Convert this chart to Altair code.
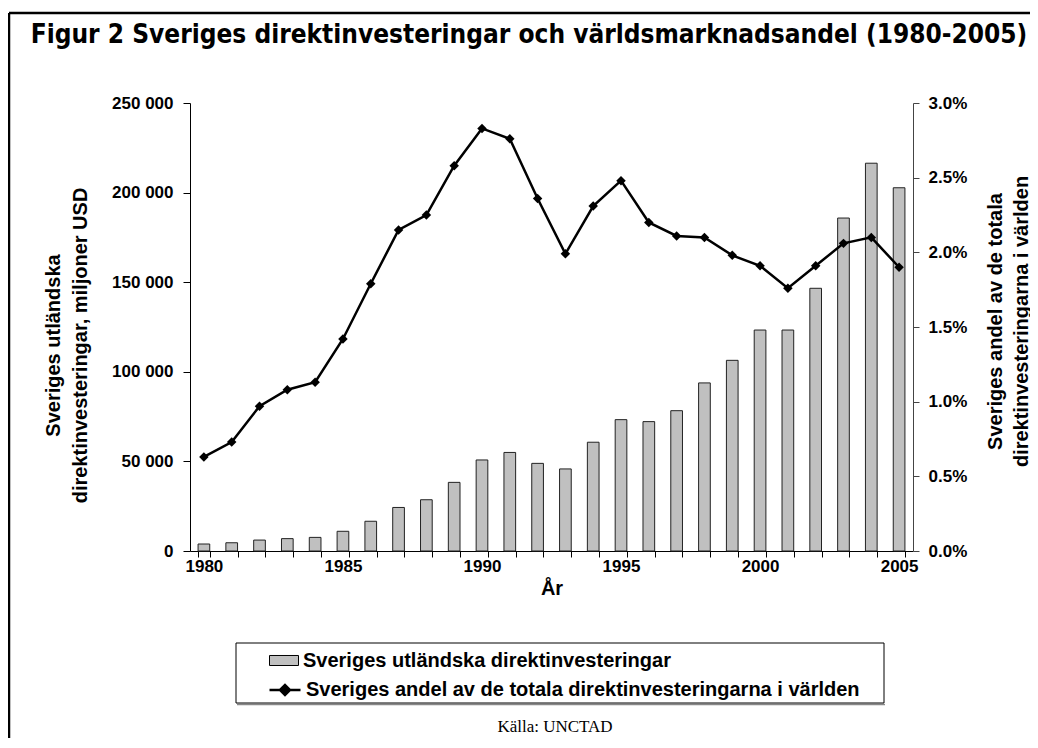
import altair as alt
import pandas as pd

years = list(range(1980, 2006))
fdi = [3900, 4600, 6100, 6900, 7600, 11000, 16600, 24300, 28600, 38300,
       50800, 55000, 48900, 45800, 60700, 73300, 72200, 78300, 93800, 106400,
       123300, 123300, 146600, 185800, 216400, 202700]
share = [0.63, 0.73, 0.97, 1.08, 1.13, 1.42, 1.79, 2.15, 2.25, 2.58,
         2.83, 2.76, 2.36, 1.99, 2.31, 2.48, 2.20, 2.11, 2.10, 1.98,
         1.91, 1.76, 1.91, 2.06, 2.10, 1.90]
bar_name = "Sveriges utländska direktinvesteringar"
line_name = "Sveriges andel av de totala direktinvesteringarna i världen"
title_text = "Figur 2 Sveriges direktinvesteringar och världsmarknadsandel (1980-2005)"
source_text = "Källa: UNCTAD"

df = pd.DataFrame({"year": years, "fdi": fdi, "share": share,
                   "s_bar": bar_name, "s_line": line_name})
deco = pd.DataFrame({"a": [0]})

FONT = "Liberation Sans, Arial, sans-serif"
LFS = 17
TFS = 20

x_enc = alt.X(
    "year:O",
    scale=alt.Scale(paddingInner=0.58, paddingOuter=0.29),
    axis=alt.Axis(
        title="År", labelAngle=0, tickBand="extent", tickSize=6,
        labelExpr="datum.value % 5 == 0 ? datum.label : ''",
        labelPadding=1, titlePadding=4,
        domainColor="black", tickColor="black",
    ),
)

bars = alt.Chart(df).mark_bar(stroke="#222222", strokeWidth=1).encode(
    x=x_enc,
    y=alt.Y("fdi:Q", scale=alt.Scale(domain=[0, 250000]),
            axis=alt.Axis(
                title=["Sveriges utländska", "direktinvesteringar, miljoner USD"],
                values=[0, 50000, 100000, 150000, 200000, 250000],
                labelExpr="replace(format(datum.value, ','), ',', ' ')",
                tickSize=7, labelPadding=10,
                domainColor="black", tickColor="black",
                titleLineHeight=27, titleAngle=270, titleAlign="center",
                titleBaseline="middle", titleX=-137, titleY=242,
            )),
    fill=alt.Fill("s_bar:N", scale=alt.Scale(domain=[bar_name], range=["#C0C0C0"]),
                  legend=alt.Legend(
                      title=None, orient="none", legendX=79, legendY=542.5,
                      symbolType="M-1,-0.345H1V0.345H-1Z", symbolSize=841,
                      symbolStrokeColor="black", symbolStrokeWidth=1,
                      labelOffset=4, padding=0,
                  )),
)

share_axis = alt.Axis(
    orient="right",
    title=["Sveriges andel av de totala", "direktinvesteringarna i världen"],
    values=[0, 0.5, 1, 1.5, 2, 2.5, 3],
    labelExpr="format(datum.value, '.1f') + '%'",
    tickSize=6, labelPadding=9,
    domainColor="#444444", tickColor="#444444",
    titleLineHeight=26, titleAngle=270, titleAlign="center",
    titleBaseline="middle", titleX=82, titleY=218,
)
y_share = alt.Y("share:Q", scale=alt.Scale(domain=[0, 3]), axis=share_axis)

line = alt.Chart(df).mark_line(strokeWidth=2.5).encode(
    x=x_enc,
    y=y_share,
    stroke=alt.Stroke("s_line:N", scale=alt.Scale(domain=[line_name], range=["black"]),
                      legend=alt.Legend(
                          title=None, orient="none", legendX=78, legendY=570,
                          symbolType="M-1,0H1M-0.32,0L0,-0.32L0.32,0L0,0.32Z",
                          symbolSize=961, symbolStrokeWidth=2.5,
                          symbolFillColor="black",
                          labelOffset=4, padding=0,
                      )),
)
points = alt.Chart(df).mark_point(shape="diamond", filled=True, color="black",
                                  size=90, opacity=1).encode(
    x=x_enc,
    y=y_share,
)

right_layer = alt.layer(line, points)

frame_left = alt.Chart(deco).mark_rule(color="black", strokeWidth=2.5).encode(
    x=alt.value(-181), y=alt.value(-90), y2=alt.value(700))
frame_top = alt.Chart(deco).mark_rule(color="black", strokeWidth=2.5).encode(
    x=alt.value(-181), x2=alt.value(900), y=alt.value(-90))
legend_shadow = alt.Chart(deco).mark_rule(color="#888888", strokeWidth=1.5).encode(
    x=alt.value(47), x2=alt.value(695), y=alt.value(601.5))
legend_box = alt.Chart(deco).mark_rect(fill=None, stroke="black", strokeWidth=1).encode(
    x=alt.value(46), x2=alt.value(694), y=alt.value(540), y2=alt.value(600))
source = alt.Chart(deco).mark_text(font="Liberation Serif, Times New Roman, serif",
                                   fontSize=17, color="black").encode(
    x=alt.value(365), y=alt.value(624), text=alt.value(source_text))
title = alt.Chart(deco).mark_text(
    font="DejaVu Sans Condensed, Liberation Sans Narrow, sans-serif",
    fontSize=26, fontWeight="bold", color="black", baseline="alphabetic",
    align="center").encode(
    x=alt.value(339), y=alt.value(-60), text=alt.value(title_text))

chart = alt.layer(
    bars, right_layer, legend_shadow, legend_box, frame_left, frame_top, source, title
).resolve_scale(
    y="independent", fill="independent", stroke="independent"
).properties(
    width=723, height=448,
    autosize=alt.AutoSizeParams(type="none"),
    padding={"left": 182, "top": 95, "right": 117, "bottom": 187},
    background="white",
).configure_view(stroke=None).configure_axis(
    labelFont=FONT, labelFontSize=LFS, labelFontWeight="bold", labelColor="black",
    titleFont=FONT, titleFontSize=TFS, titleFontWeight="bold", titleColor="black",
    grid=False,
).configure_legend(
    labelFont=FONT, labelFontSize=TFS, labelFontWeight="bold", labelColor="black",
    labelLimit=0,
)

chart.save("out.html", embed_options={"renderer": "svg", "actions": False})
